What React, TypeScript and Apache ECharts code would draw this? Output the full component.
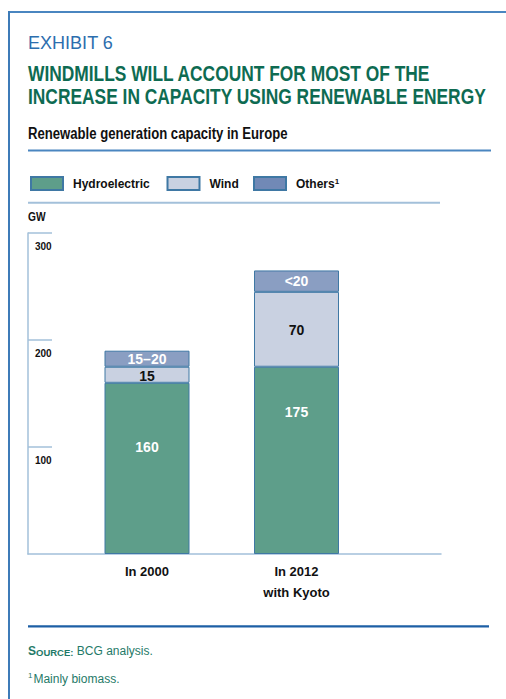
import React, { useEffect, useRef } from 'react';
import * as echarts from 'echarts';

const categories = ['In 2000', 'In 2012\nwith Kyoto'];
const seriesNames = ['Hydroelectric', 'Wind', 'Others'];
const hydro = [160, 175];
const wind = [15, 70];
const others = [15, 20];
const hydroLabels = ['160', '175'];
const windLabels = ['15', '70'];
const othersLabels = ['15–20', '<20'];
const yMin = 0;
const yMax = 300;
const yInterval = 100;

const SANS = '"Liberation Sans", Arial, sans-serif';

const COL = {
  hydro: '#5e9e8a',
  wind: '#c9d1e1',
  others: '#8a9ec2',
  othersLegend: '#7189b6',
  barBorder: '#3f78a4',
  axis: '#a3c0da',
  frame: '#3d7bb8',
  subLine: '#4a86c0',
  srcLine: '#1d5fa5',
  exhibit: '#2c6eae',
  title: '#0e6b52',
  teal: '#1f7a68',
  ink: '#111111',
};

const legendCommon = {
  padding: 0,
  top: 176,
  itemWidth: 32,
  itemHeight: 13,
  icon: 'rect',
  textStyle: {
    fontFamily: SANS,
    fontWeight: 'bold',
    fontSize: 12,
    color: COL.ink,
    padding: [0, 0, 0, 5],
    rich: {
      a: { fontFamily: SANS, fontWeight: 'bold', fontSize: 12, color: COL.ink },
      s: { fontFamily: SANS, fontWeight: 'bold', fontSize: 8, color: COL.ink, verticalAlign: 'top', padding: [0, 0, 5, 0] },
    },
  },
  formatter: (name: string) => (name === 'Others' ? '{a|Others}{s|1}' : name),
};

const barLabel = {
  show: true,
  position: 'inside',
  fontFamily: SANS,
  fontWeight: 'bold',
  fontSize: 14,
};

export default function App() {
  const ref = useRef<HTMLDivElement>(null);

  useEffect(() => {
    if (!ref.current) return;
    const chart = echarts.init(ref.current, undefined, { renderer: 'svg' });
    const option: any = {
      animation: false,
      backgroundColor: '#ffffff',
      legend: [
        { ...legendCommon, left: 30, data: [{ name: seriesNames[0] }] },
        { ...legendCommon, left: 166.5, data: [{ name: seriesNames[1] }] },
        { ...legendCommon, left: 253, data: [{ name: seriesNames[2], itemStyle: { color: COL.othersLegend } }] },
      ],
      grid: [
        { left: 28, top: 233, width: 413, height: 321 },
        { left: 72.25, top: 233, width: 299, height: 321 },
      ],
      xAxis: [
        {
          gridIndex: 0,
          type: 'category',
          data: categories,
          axisLine: { lineStyle: { color: COL.axis, width: 1.5 } },
          axisTick: { show: false },
          axisLabel: { show: false },
        },
        {
          gridIndex: 1,
          type: 'category',
          data: categories,
          axisLine: { show: false },
          axisTick: { show: false },
          axisLabel: {
            margin: 7,
            fontFamily: SANS,
            fontWeight: 'bold',
            fontSize: 13,
            lineHeight: 21,
            color: COL.ink,
          },
        },
      ],
      yAxis: [
        {
          gridIndex: 0,
          type: 'value',
          min: yMin,
          max: yMax,
          interval: yInterval,
          axisLine: { show: true, lineStyle: { color: COL.axis, width: 1.5 } },
          axisTick: { show: true, inside: true, length: 24, lineStyle: { color: COL.axis, width: 1.5 } },
          axisLabel: {
            inside: true,
            margin: 7,
            showMinLabel: false,
            verticalAlign: 'top',
            lineHeight: 26,
            fontFamily: SANS,
            fontWeight: 'bold',
            fontSize: 10,
            color: COL.ink,
          },
          splitLine: { show: false },
        },
        { gridIndex: 1, type: 'value', min: yMin, max: yMax, interval: yInterval, show: false },
      ],
      series: [
        {
          name: seriesNames[0],
          type: 'bar',
          stack: 'total',
          xAxisIndex: 1,
          yAxisIndex: 1,
          barWidth: 85,
          itemStyle: { color: COL.hydro, borderColor: COL.barBorder, borderWidth: 1 },
          label: { ...barLabel, color: '#ffffff', formatter: (p: any) => hydroLabels[p.dataIndex] },
          data: hydro.map((v, i) => ({ value: v, label: { offset: [0, i === 0 ? -21 : -48] } })),
        },
        {
          name: seriesNames[1],
          type: 'bar',
          stack: 'total',
          xAxisIndex: 1,
          yAxisIndex: 1,
          barWidth: 85,
          itemStyle: { color: COL.wind, borderColor: COL.barBorder, borderWidth: 1 },
          label: { ...barLabel, color: COL.ink, offset: [0, 1], formatter: (p: any) => windLabels[p.dataIndex] },
          data: wind,
        },
        {
          name: seriesNames[2],
          type: 'bar',
          stack: 'total',
          xAxisIndex: 1,
          yAxisIndex: 1,
          barWidth: 85,
          itemStyle: { color: COL.others, borderColor: COL.barBorder, borderWidth: 1 },
          label: { ...barLabel, color: '#ffffff', formatter: (p: any) => othersLabels[p.dataIndex] },
          data: others,
        },
      ],
      graphic: [
        { type: 'line', shape: { x1: 9, y1: 12, x2: 506, y2: 12 }, style: { stroke: COL.subLine, lineWidth: 2 } },
        { type: 'line', shape: { x1: 9, y1: 11, x2: 9, y2: 699 }, style: { stroke: COL.frame, lineWidth: 2 } },
        {
          type: 'text', x: 28, y: 42, scaleX: 0.95,
          style: { text: 'EXHIBIT 6', fill: COL.exhibit, fontFamily: SANS, fontSize: 19, verticalAlign: 'middle' },
        },
        {
          type: 'text', x: 28, y: 73.5, scaleX: 0.79,
          style: { text: 'WINDMILLS WILL ACCOUNT FOR MOST OF THE', fill: COL.title, fontFamily: SANS, fontWeight: 'bold', fontSize: 22, verticalAlign: 'middle' },
        },
        {
          type: 'text', x: 28, y: 96, scaleX: 0.79,
          style: { text: 'INCREASE IN CAPACITY USING RENEWABLE ENERGY', fill: COL.title, fontFamily: SANS, fontWeight: 'bold', fontSize: 22, verticalAlign: 'middle' },
        },
        {
          type: 'text', x: 28, y: 134, scaleX: 0.82,
          style: { text: 'Renewable generation capacity in Europe', fill: COL.ink, fontFamily: SANS, fontWeight: 'bold', fontSize: 16, verticalAlign: 'middle' },
        },
        { type: 'line', shape: { x1: 28, y1: 150.5, x2: 491, y2: 150.5 }, style: { stroke: COL.subLine, lineWidth: 2 } },
        { type: 'line', shape: { x1: 28, y1: 202.7, x2: 440, y2: 202.7 }, style: { stroke: COL.axis, lineWidth: 2 } },
        {
          type: 'text', x: 28, y: 217, scaleX: 0.85,
          style: { text: 'GW', fill: COL.ink, fontFamily: SANS, fontWeight: 'bold', fontSize: 12, verticalAlign: 'middle' },
        },
        { type: 'line', shape: { x1: 28, y1: 626.3, x2: 489, y2: 626.3 }, style: { stroke: COL.srcLine, lineWidth: 2.2 } },
        {
          type: 'text', x: 28, y: 650,
          style: {
            text: '{a|S}{b|OURCE:}{c| BCG analysis.}',
            verticalAlign: 'middle',
            rich: {
              a: { fill: COL.teal, fontFamily: SANS, fontWeight: 'bold', fontSize: 12, verticalAlign: 'bottom', lineHeight: 14 },
              b: { fill: COL.teal, fontFamily: SANS, fontWeight: 'bold', fontSize: 9.5, verticalAlign: 'bottom', lineHeight: 14 },
              c: { fill: COL.teal, fontFamily: SANS, fontSize: 12, verticalAlign: 'bottom', lineHeight: 14 },
            },
          },
        },
        {
          type: 'text', x: 28, y: 678,
          style: {
            text: '{s|1}{m|Mainly biomass.}',
            verticalAlign: 'middle',
            rich: {
              s: { fill: COL.teal, fontFamily: SANS, fontSize: 8, verticalAlign: 'top', lineHeight: 14, padding: [0, 1, 0, 0] },
              m: { fill: COL.teal, fontFamily: SANS, fontSize: 12, verticalAlign: 'bottom', lineHeight: 14 },
            },
          },
        },
      ],
    };
    chart.setOption(option);
    return () => chart.dispose();
  }, []);

  return (
    <div
      ref={ref}
      style={{ position: 'fixed', left: 0, top: 0, width: 506, height: 699, background: '#fff' }}
    />
  );
}
